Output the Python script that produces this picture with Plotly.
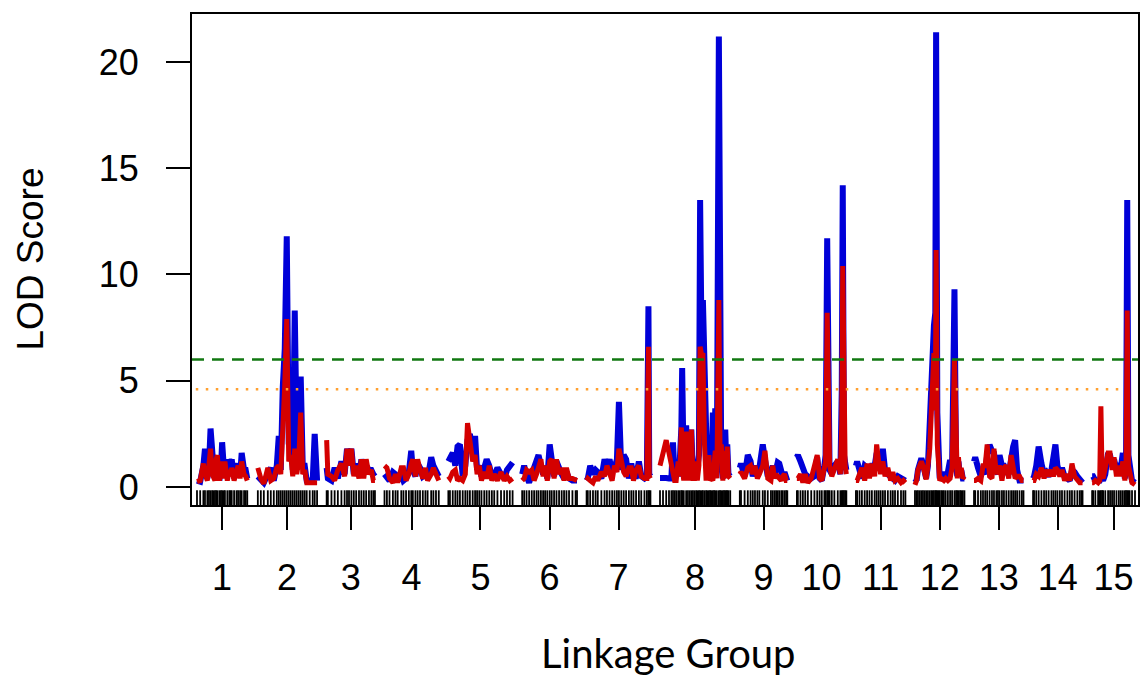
import plotly.graph_objects as go

# ---------------- data (cM positions within each linkage group, LOD values) ----------------
GROUP_NAMES = ["1", "2", "3", "4", "5", "6", "7", "8", "9", "10", "11", "12", "13", "14", "15"]

LG1_POS = [0, 8, 16, 20, 26, 30, 34, 38, 41, 45, 48, 51, 56, 60, 63, 67, 70, 76, 81, 84, 87, 93, 99, 103, 108, 112, 118, 122, 126]
LG1_BLUE = [0.3, 0.25, 1.0, 1.8, 0.4, 1.0, 2.75, 1.2, 1.0, 0.5, 1.4, 1.0, 0.3, 0.8, 2.1, 1.0, 1.3, 0.5, 1.3, 1.1, 1.3, 0.4, 1.0, 1.1, 0.5, 1.6, 0.8, 0.8, 0.4]
LG1_RED = [0.25, 0.3, 1.1, 0.6, 0.3, 1.0, 1.8, 0.6, 0.4, 0.3, 1.3, 1.5, 0.3, 0.7, 1.2, 0.4, 1.2, 0.3, 0.8, 0.5, 0.9, 0.3, 0.9, 1.0, 0.4, 1.2, 0.6, 0.5, 0.3]

LG2_POS = [2.5, 10, 17.5, 27.5, 35, 42.5, 50, 55, 60, 65, 70, 75, 80, 85, 90, 95, 100, 105, 110, 115, 120, 125, 132.5, 140, 145, 151]
LG2_BLUE = [0.5, 0.3, 0.2, 0.6, 0.9, 0.3, 1.0, 2.4, 0.8, 4.7, 6.5, 11.8, 2.0, 3.5, 0.8, 8.3, 2.2, 1.5, 5.2, 1.0, 1.0, 0.3, 0.3, 0.3, 2.5, 0.3]
LG2_RED = [0.9, 0.4, 0.15, 0.9, 0.3, 0.4, 0.9, 1.0, 0.6, 2.5, 4.8, 7.9, 1.2, 1.5, 0.5, 1.8, 0.6, 1.2, 3.5, 0.6, 0.8, 0.2, 0.2, 0.2, 0.2, 0.2]

LG3_POS = [0, 3, 12, 20, 28, 37, 45, 51, 56, 62, 68, 74, 81, 87, 93, 99, 106, 112, 117, 121]
LG3_BLUE = [0.9, 0.4, 0.3, 0.9, 0.4, 1.2, 0.6, 1.8, 1.2, 1.8, 0.6, 1.1, 0.5, 1.3, 0.8, 1.0, 0.8, 0.8, 0.6, 0.5]
LG3_RED = [2.2, 0.6, 0.5, 0.3, 0.8, 1.1, 0.5, 1.8, 1.0, 1.8, 0.5, 1.0, 0.4, 1.3, 0.4, 1.3, 0.6, 0.8, 0.3, 0.3]

LG4_POS = [0, 6, 12.5, 21, 27.5, 33, 42, 47.5, 54, 61, 67, 71, 77.5, 83, 89, 96, 102.5, 108, 117, 122.5, 129, 136]
LG4_BLUE = [0.6, 0.5, 0.3, 0.7, 0.6, 0.3, 0.6, 0.3, 0.4, 0.7, 1.7, 0.8, 0.5, 1.1, 0.9, 0.5, 0.6, 0.4, 1.4, 1.0, 0.8, 0.5]
LG4_RED = [1.0, 0.9, 0.4, 0.2, 0.6, 0.2, 0.9, 0.9, 0.3, 0.6, 1.1, 1.3, 0.5, 1.3, 0.8, 0.4, 0.9, 0.3, 0.6, 0.9, 0.6, 0.3]

LG5_POS = [0, 4, 11, 17.5, 23, 29, 36, 42.5, 48, 54, 61, 67, 72, 77.5, 83, 90, 96, 102.5, 109, 115, 123, 132, 140, 147, 154, 161]
LG5_BLUE = [1.2, 1.4, 1.6, 1.0, 1.9, 2.0, 0.5, 1.0, 2.2, 2.5, 1.6, 2.4, 0.8, 1.0, 0.5, 0.9, 1.3, 1.0, 0.5, 0.5, 0.9, 0.6, 0.4, 0.8, 1.0, 1.15]
LG5_RED = [0.5, 0.4, 0.7, 0.8, 0.3, 0.4, 0.3, 0.6, 3.0, 2.0, 1.2, 1.5, 0.6, 1.0, 0.3, 0.7, 0.4, 1.0, 0.3, 0.6, 0.3, 0.7, 0.3, 0.5, 0.3, 0.4]

LG6_POS = [0, 5, 11, 17.5, 24, 30, 36, 41, 47, 52.5, 57.5, 63, 69, 74, 80, 86, 92.5, 99, 105, 111, 117.5, 126, 134, 137.5]
LG6_BLUE = [0.6, 1.0, 0.5, 0.2, 0.6, 0.9, 1.4, 1.5, 1.0, 0.6, 1.0, 0.4, 2.0, 1.1, 0.5, 1.2, 0.8, 0.6, 0.4, 0.7, 0.4, 0.3, 0.3, 0.3]
LG6_RED = [0.3, 0.4, 0.8, 0.7, 0.8, 0.3, 0.6, 0.9, 1.3, 0.5, 1.0, 0.3, 1.2, 1.3, 0.4, 1.3, 0.6, 0.9, 0.3, 0.9, 0.4, 0.4, 0.3, 0.3]

LG7_POS = [0, 3, 9, 16, 22.5, 28, 37, 45, 51, 57.5, 64, 70, 76, 81, 87, 93, 99, 106, 112, 117.5, 124, 131, 137, 145, 151, 155, 157, 160]
LG7_BLUE = [0.3, 0.4, 1.0, 0.6, 0.8, 0.7, 0.4, 1.3, 0.9, 1.3, 0.7, 0.9, 1.3, 4.0, 0.8, 1.5, 1.3, 0.4, 1.1, 0.5, 0.5, 1.2, 0.5, 0.4, 0.5, 8.5, 0.6, 0.5]
LG7_RED = [0.3, 0.4, 0.3, 0.2, 0.5, 0.3, 0.7, 0.5, 1.0, 0.6, 0.3, 1.0, 0.7, 1.8, 1.2, 0.7, 0.5, 0.9, 0.9, 0.3, 0.8, 1.0, 0.5, 0.4, 0.4, 6.6, 0.5, 0.4]

LG8_POS = [0, 7.5, 15.5, 22.5, 28.5, 32.5, 36.5, 40.5, 45.5, 49.5, 53.5, 55.5, 59.5, 65.5, 70, 74.5, 78.5, 82.5, 86.5, 90.5, 93.5, 97.5, 100.5, 104.5, 107.5, 111.5, 115.5, 118.5, 122.5, 125.5, 128.5, 132.5, 135.5, 138.5, 142.5, 147.5, 150.5, 153.5, 157.5, 160.5, 163.5, 166.5, 168.5, 171.5, 176]
LG8_BLUE = [0.42, 0.45, 0.42, 0.4, 0.4, 2.1, 0.6, 1.0, 0.5, 1.2, 2.8, 5.6, 0.6, 2.9, 0.4, 1.5, 2.7, 0.5, 1.0, 0.4, 1.0, 1.5, 13.5, 6.0, 8.8, 4.8, 1.0, 0.5, 1.4, 0.4, 0.6, 3.5, 0.5, 3.7, 0.8, 21.2, 2.0, 1.0, 0.4, 1.0, 2.7, 0.8, 2.0, 0.6, 0.5]
LG8_RED = [1.0, 1.7, 2.2, 1.6, 0.9, 0.5, 0.3, 0.3, 1.2, 0.5, 2.8, 1.0, 0.3, 2.6, 0.3, 1.4, 2.7, 0.4, 0.4, 1.2, 0.3, 1.0, 6.6, 6.2, 6.3, 2.0, 0.3, 1.0, 1.5, 0.3, 0.4, 0.3, 1.5, 1.7, 0.4, 8.8, 1.5, 2.0, 0.3, 0.8, 1.7, 0.4, 1.9, 0.5, 0.4]

LG9_POS = [0, 3, 12, 20, 27, 32.5, 38, 44, 49, 57.5, 63, 70, 78, 82.5, 87, 91, 95, 99, 104, 107.5, 112, 116, 119]
LG9_BLUE = [0.9, 1.1, 0.5, 1.5, 1.2, 0.5, 1.0, 0.6, 0.9, 2.0, 1.3, 0.5, 0.7, 1.0, 0.5, 0.9, 1.15, 1.1, 0.6, 0.5, 0.7, 0.3, 0.3]
LG9_RED = [0.6, 0.7, 0.4, 0.9, 1.0, 0.6, 1.0, 0.4, 0.6, 1.0, 1.7, 0.4, 0.3, 1.0, 0.4, 0.6, 0.5, 0.4, 0.3, 0.5, 0.6, 0.3, 0.3]

LG10_POS = [0, 2.5, 9, 15, 21, 27.5, 36, 44, 51, 57, 62.5, 69, 72, 76, 79, 82, 87.5, 94, 102.5, 109, 112.5, 115, 118, 121, 124]
LG10_BLUE = [1.4, 1.5, 1.2, 0.8, 0.6, 0.5, 0.4, 0.5, 1.4, 0.4, 0.3, 1.0, 1.5, 11.7, 1.2, 0.8, 0.6, 1.0, 1.2, 0.6, 4.5, 14.2, 1.5, 1.1, 0.8]
LG10_RED = [0.4, 0.4, 0.6, 0.2, 0.6, 0.2, 0.4, 0.9, 1.5, 0.4, 0.3, 0.9, 1.2, 8.2, 1.0, 1.0, 0.5, 0.9, 1.3, 0.6, 3.0, 10.4, 1.2, 1.0, 0.6]

LG11_POS = [0, 3, 9, 15, 22, 28, 34, 40, 47, 52, 57, 62, 67.5, 73, 80, 87, 92.5, 98, 105, 113, 119, 124]
LG11_BLUE = [1.0, 1.2, 0.8, 0.4, 1.0, 0.9, 0.6, 1.0, 1.0, 1.6, 1.2, 0.8, 1.8, 0.8, 0.6, 0.5, 0.4, 0.3, 0.5, 0.4, 0.3, 0.3]
LG11_RED = [0.3, 0.3, 0.6, 0.9, 0.3, 1.1, 0.4, 1.1, 0.5, 2.0, 1.2, 0.6, 1.2, 0.5, 0.9, 0.3, 0.7, 0.3, 0.4, 0.2, 0.3, 0.2]

LG12_POS = [0, 4, 7.5, 12, 16, 20, 24, 28, 32.5, 37, 41, 44, 47.5, 51, 53, 56, 59, 62, 66, 69, 72.5, 77, 82.5, 88, 93, 99, 103, 106, 109, 113, 116, 120, 124]
LG12_BLUE = [0.4, 0.3, 0.8, 1.1, 1.35, 1.1, 0.7, 0.4, 1.0, 3.0, 5.5, 7.0, 7.6, 8.2, 21.4, 3.5, 0.5, 0.4, 0.6, 0.5, 0.7, 0.5, 0.7, 1.27, 0.9, 9.3, 1.1, 0.5, 1.2, 0.5, 0.8, 0.4, 0.4]
LG12_RED = [0.1, 0.3, 0.8, 1.0, 1.2, 1.0, 0.7, 0.35, 1.0, 1.8, 3.5, 4.5, 6.3, 3.6, 11.15, 2.0, 0.4, 0.3, 0.4, 0.3, 0.3, 0.4, 0.3, 0.4, 0.9, 6.0, 1.3, 0.4, 1.4, 0.5, 0.9, 0.4, 0.5]

LG13_POS = [0, 3, 10, 17, 22.5, 28, 33, 39, 45, 50, 56, 60, 64, 70, 75, 81, 87, 93, 98, 103, 108, 114, 120, 124]
LG13_BLUE = [1.2, 1.4, 0.9, 0.5, 0.8, 0.6, 1.5, 1.98, 1.7, 1.6, 0.8, 0.6, 1.5, 1.0, 1.0, 0.7, 0.6, 1.4, 1.9, 2.2, 0.8, 0.3, 0.3, 0.3]
LG13_RED = [0.3, 0.3, 0.4, 0.3, 1.0, 1.0, 2.0, 0.5, 0.4, 1.8, 0.6, 0.8, 1.0, 0.3, 0.9, 1.0, 0.4, 1.5, 0.8, 0.4, 0.5, 0.5, 0.3, 0.3]

LG14_POS = [0, 2.5, 8, 14, 21, 27.5, 33, 39, 46, 51, 56, 61, 67, 72.5, 79, 86, 92, 97.5, 104, 111, 117, 121, 124]
LG14_BLUE = [0.4, 0.5, 1.0, 1.9, 1.1, 0.6, 0.7, 0.5, 0.8, 1.3, 2.0, 1.0, 0.6, 0.9, 0.5, 0.4, 0.3, 0.8, 0.7, 0.5, 0.3, 0.2, 0.2]
LG14_RED = [0.3, 0.3, 0.6, 0.5, 0.9, 0.4, 0.8, 0.5, 0.8, 0.5, 0.9, 0.8, 0.5, 0.8, 0.3, 0.6, 0.3, 1.1, 0.5, 0.3, 0.2, 0.2, 0.2]

LG15_POS = [0, 2.5, 8, 15, 19, 22, 25, 27.5, 33, 40, 45, 50, 55, 61, 67, 72, 77, 82, 85, 88, 91, 94, 100, 107.5]
LG15_BLUE = [0.5, 0.5, 0.3, 0.3, 0.3, 0.5, 0.4, 0.3, 0.6, 1.6, 1.5, 1.0, 1.3, 0.8, 1.1, 0.9, 1.6, 0.4, 1.0, 13.5, 1.5, 0.9, 0.3, 0.2]
LG15_RED = [0.2, 0.2, 0.3, 0.2, 0.3, 3.8, 0.5, 0.4, 0.9, 1.6, 1.6, 0.8, 1.4, 0.5, 1.0, 0.5, 1.2, 0.3, 0.8, 8.3, 1.0, 0.8, 0.2, 0.1]

THRESH_HIGH = 6.0   # green dashed
THRESH_LOW = 4.6    # orange dotted

POS = [LG1_POS, LG2_POS, LG3_POS, LG4_POS, LG5_POS, LG6_POS, LG7_POS, LG8_POS,
       LG9_POS, LG10_POS, LG11_POS, LG12_POS, LG13_POS, LG14_POS, LG15_POS]
BLUE = [LG1_BLUE, LG2_BLUE, LG3_BLUE, LG4_BLUE, LG5_BLUE, LG6_BLUE, LG7_BLUE, LG8_BLUE,
        LG9_BLUE, LG10_BLUE, LG11_BLUE, LG12_BLUE, LG13_BLUE, LG14_BLUE, LG15_BLUE]
RED = [LG1_RED, LG2_RED, LG3_RED, LG4_RED, LG5_RED, LG6_RED, LG7_RED, LG8_RED,
       LG9_RED, LG10_RED, LG11_RED, LG12_RED, LG13_RED, LG14_RED, LG15_RED]

for i in range(len(POS)):
    assert len(POS[i]) == len(BLUE[i]) == len(RED[i]), f"group {i+1} length mismatch"

# ---------------- genome-wide coordinates (R/qtl style, gap between groups) ----------------
GAP = 24.0
starts, mids = [], []
cur = 0.0
for p in POS:
    starts.append(cur)
    mids.append(cur + max(p) / 2.0)
    cur += max(p) + GAP
total_end = cur - GAP

xb, yb, xr, yr, rug = [], [], [], [], []
for s, p, b, r in zip(starts, POS, BLUE, RED):
    xs = [s + v for v in p]
    xb += xs + [None]
    yb += b + [None]
    xr += xs + [None]
    yr += r + [None]
    rug += xs

BLUE_C = "#0000D8"
RED_C = "#D40000"

fig = go.Figure()
fig.add_trace(go.Scatter(x=xb, y=yb, mode="lines", line=dict(color=BLUE_C, width=6),
                         connectgaps=False, showlegend=False, hoverinfo="skip"))
fig.add_trace(go.Scatter(x=xr, y=yr, mode="lines", line=dict(color=RED_C, width=5),
                         connectgaps=False, showlegend=False, hoverinfo="skip"))
fig.add_trace(go.Scatter(x=rug, y=[-0.52] * len(rug), mode="markers",
                         marker=dict(symbol="line-ns-open", size=11, color="black",
                                     line=dict(width=1.8, color="black")),
                         showlegend=False, hoverinfo="skip"))

fig.add_hline(y=THRESH_HIGH, line=dict(color="#127812", width=2.5, dash="12px,8px"), layer="above")
fig.add_shape(type="line", xref="paper", yref="y", x0=0.004, x1=0.98, y0=THRESH_LOW, y1=THRESH_LOW,
              line=dict(color="#FFA030", width=2.5, dash="2.5px,7.5px"), layer="above")

TICK_FONT = dict(family="Liberation Sans, Arial, sans-serif", size=36, color="black")

fig.update_layout(
    width=1141, height=676,
    margin=dict(l=192, r=1, t=14, b=171),
    paper_bgcolor="white", plot_bgcolor="white",
    xaxis=dict(range=[-12.5, total_end + 7.5], tickvals=mids, ticktext=GROUP_NAMES,
               ticks="outside", ticklen=23, tickwidth=2, tickcolor="black",
               tickfont=TICK_FONT, ticklabelstandoff=17,
               showline=True, linecolor="black", linewidth=2, mirror=True,
               showgrid=False, zeroline=False),
    yaxis=dict(range=[-0.85, 22.26], tickvals=[0, 5, 10, 15, 20],
               ticks="outside", ticklen=24, tickwidth=2, tickcolor="black",
               tickfont=TICK_FONT, ticklabelstandoff=20,
               showline=True, linecolor="black", linewidth=2, mirror=True,
               showgrid=False, zeroline=False),
    annotations=[
        dict(text="LOD Score", xref="paper", yref="paper", x=0, y=0.5, xshift=-162,
             textangle=-90, showarrow=False, xanchor="center", yanchor="middle",
             font=dict(family="Liberation Sans, Arial, sans-serif", size=37, color="black")),
        dict(text="Linkage Group", xref="paper", yref="paper", x=0.504, y=0, yshift=-148,
             showarrow=False, xanchor="center", yanchor="middle",
             font=dict(family="Lato, Open Sans, sans-serif", size=40, color="black")),
    ],
)

fig.write_html("out.html")
